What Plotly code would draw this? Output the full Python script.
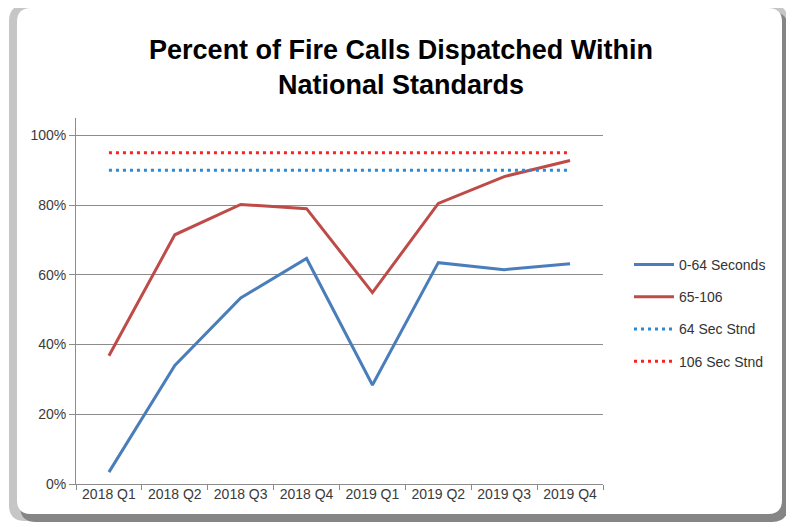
import plotly.graph_objects as go

quarters = ["2018 Q1", "2018 Q2", "2018 Q3", "2018 Q4",
            "2019 Q1", "2019 Q2", "2019 Q3", "2019 Q4"]
within_0_64 = [0.034, 0.34, 0.534, 0.647, 0.284, 0.635, 0.615, 0.632]
within_65_106 = [0.368, 0.715, 0.802, 0.79, 0.549, 0.805, 0.882, 0.928]
std_64 = [0.90] * 8
std_106 = [0.95] * 8
y_ticks = [0, 0.2, 0.4, 0.6, 0.8, 1.0]

# page offset caused by the default body margin of the html page
OFF = 8
W, H = 794 - OFF, 525 - OFF
# plot area in page pixels
L, R, T, B = 76, 603, 118, 484


def px(X):
    return (X - L) / (R - L)


def py(Y):
    return (B - Y) / (B - T)


def rrect(x0, y0, x1, y1, r):
    pts = [
        f"M{px(x0 + r)},{py(y0)}",
        f"L{px(x1 - r)},{py(y0)}",
        f"Q{px(x1)},{py(y0)} {px(x1)},{py(y0 + r)}",
        f"L{px(x1)},{py(y1 - r)}",
        f"Q{px(x1)},{py(y1)} {px(x1 - r)},{py(y1)}",
        f"L{px(x0 + r)},{py(y1)}",
        f"Q{px(x0)},{py(y1)} {px(x0)},{py(y1 - r)}",
        f"L{px(x0)},{py(y0 + r)}",
        f"Q{px(x0)},{py(y0)} {px(x0 + r)},{py(y0)}",
        "Z",
    ]
    return " ".join(pts)


font_main = "Liberation Sans, Arial, sans-serif"

fig = go.Figure()
fig.add_trace(go.Scatter(x=quarters, y=within_0_64, mode="lines", name="0-64 Seconds",
                         line=dict(color="#4a7ebb", width=3), legendgroup="a"))
fig.add_trace(go.Scatter(x=quarters, y=within_65_106, mode="lines", name="65-106",
                         line=dict(color="#be4b48", width=3), legendgroup="b"))
fig.add_trace(go.Scatter(x=quarters, y=std_64, mode="lines", name="64 Sec Stnd",
                         line=dict(color="#2a8ad8", width=3, dash="3px,4px"), legendgroup="c"))
fig.add_trace(go.Scatter(x=quarters, y=std_106, mode="lines", name="106 Sec Stnd",
                         line=dict(color="#ff2020", width=3, dash="3px,4px"), legendgroup="d"))

shapes = [
    dict(type="path", xref="paper", yref="paper", layer="below",
         path=rrect(9, 5, 788, 521, 16), fillcolor="#c6c6c6", line=dict(width=0)),
    dict(type="path", xref="paper", yref="paper", layer="below",
         path=rrect(20, 12, 788, 522, 16), fillcolor="#858585", line=dict(width=0)),
    dict(type="path", xref="paper", yref="paper", layer="below",
         path=rrect(17, 8, 782, 514, 14), fillcolor="#ffffff", line=dict(width=0)),
]

fig.update_layout(
    width=W, height=H,
    margin=dict(l=L - OFF, r=W - (R - OFF), t=T - OFF, b=H - (B - OFF)),
    paper_bgcolor="#ffffff",
    plot_bgcolor="rgba(0,0,0,0)",
    shapes=shapes,
    title=dict(text="<b>Percent of Fire Calls Dispatched Within<br>National Standards</b>",
               xref="container", yref="container",
               x=(401 - OFF) / W, xanchor="center",
               y=1 - (59 - OFF) / H, yanchor="middle",
               font=dict(family=font_main, size=27, color="#000000")),
    showlegend=True,
    legend=dict(x=px(629), xanchor="left", y=py(313), yanchor="middle",
                font=dict(family=font_main, size=14, color="#333333"),
                traceorder="grouped", tracegroupgap=11, itemwidth=40,
                bgcolor="rgba(0,0,0,0)"),
    xaxis=dict(type="category", range=[-0.5, 7.5], tickson="boundaries",
               ticks="outside", ticklen=5, tickcolor="#8c8c8c",
               ticklabelstandoff=-3,
               showline=True, linecolor="#8c8c8c", linewidth=1,
               showgrid=False, zeroline=False,
               tickfont=dict(family=font_main, size=14, color="#3a3a3a")),
    yaxis=dict(range=[0, 1.05], tickvals=y_ticks, tickformat=".0%",
               ticks="outside", ticklen=6, tickcolor="#8c8c8c",
               showline=True, linecolor="#8c8c8c", linewidth=1,
               showgrid=True, gridcolor="#8c8c8c", gridwidth=1, zeroline=False,
               tickfont=dict(family=font_main, size=14, color="#3a3a3a")),
)

fig.write_html("out.html")
